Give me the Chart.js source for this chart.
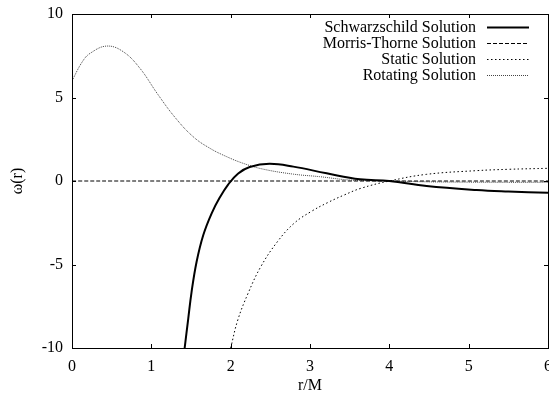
<!DOCTYPE html>
<html>
<head>
  <meta charset="utf-8">
  <title>omega(r)</title>
  <style>
    html, body { margin: 0; padding: 0; background: #fff; }
    canvas { display: block; }
  </style>
</head>
<body>
<canvas id="omegaChart" width="549" height="399"></canvas>
<script src="https://cdn.jsdelivr.net/npm/chart.js"></script>
<script type="text/javascript">
    // data (r/M against omega)
    const xTicks = [0, 1, 2, 3, 4, 5, 6];
    const yTicks = [-10, -5, 0, 5, 10];

    const schwLabel = 'Schwarzschild Solution';
    const schwR = [1.42, 1.465, 1.507, 1.57, 1.654, 1.759, 1.864, 1.97, 2.095, 2.24, 2.49, 2.79, 3.21, 3.63, 4.0, 4.47, 5.10, 5.5, 6.0];
    const schwW = [-10, -8.25, -6.65, -4.85, -3.25, -1.95, -0.98, -0.2, 0.45, 0.84, 1.03, 0.86, 0.46, 0.10, 0.0, -0.30, -0.54, -0.63, -0.71];

    const mtLabel = 'Morris-Thorne Solution';
    const mtR = [0, 6];
    const mtW = [0, 0];

    const statLabel = 'Static Solution';
    const statR = [2.0, 2.09, 2.22, 2.38, 2.59, 2.80, 3.01, 3.22, 3.43, 3.64, 4.0, 4.47, 5.10, 5.5, 6.0];
    const statW = [-10, -8.32, -6.72, -5.13, -3.63, -2.53, -1.84, -1.30, -0.84, -0.44, 0.0, 0.40, 0.62, 0.70, 0.76];

    const rotLabel = 'Rotating Solution';
    const rotR = [0, 0.13, 0.23, 0.44, 0.646, 0.856, 1.08, 1.30, 1.528, 1.738, 1.948, 2.157, 2.4, 2.79, 3.12, 3.5, 4.0, 4.5, 5.0, 5.5, 6.0];
    const rotW = [6.0, 7.14, 7.65, 8.08, 7.74, 6.75, 5.2, 3.8, 2.65, 1.96, 1.46, 1.06, 0.72, 0.41, 0.26, 0.06, 0.0, -0.05, -0.07, -0.08, -0.08];

    function pairs(xs, ys) {
      return xs.map((x, i) => ({x: x, y: ys[i]}));
    }

    Chart.defaults.font.family = '"Liberation Serif", "Times New Roman", serif';
    Chart.defaults.font.size = 16;
    Chart.defaults.color = '#000';

    // gnuplot style key: text right aligned, line sample on the right
    const keyPlugin = {
      id: 'keyBox',
      afterDatasetsDraw(chart) {
        const ctx = chart.ctx;
        const textRight = 476, lineFrom = 487, lineTo = 529, firstY = 27, gap = 16.1;
        chart.data.datasets.forEach((ds, i) => {
          const y = Math.round(firstY + i * gap) + 0.5;
          ctx.save();
          ctx.font = '16px "Liberation Serif"';
          ctx.fillStyle = '#000';
          ctx.textAlign = 'right';
          ctx.textBaseline = 'middle';
          ctx.fillText(ds.label, textRight, y);
          ctx.strokeStyle = ds.borderColor;
          ctx.lineWidth = ds.borderWidth;
          ctx.setLineDash(ds.borderDash || []);
          ctx.beginPath();
          ctx.moveTo(lineFrom, y);
          ctx.lineTo(lineTo, y);
          ctx.stroke();
          ctx.restore();
        });
      }
    };

    // box round the plot with inward ticks on all four sides
    const framePlugin = {
      id: 'frame',
      afterDatasetsDraw(chart) {
        const ctx = chart.ctx;
        const a = chart.chartArea;
        const xs = chart.scales.x, ys = chart.scales.y;
        const tl = 4;
        ctx.save();
        ctx.strokeStyle = '#000';
        ctx.lineWidth = 1;
        ctx.setLineDash([]);
        ctx.strokeRect(a.left + 0.5, a.top + 0.5, a.right - a.left, a.bottom - a.top);
        ctx.beginPath();
        xs.ticks.forEach(t => {
          const px = Math.round(xs.getPixelForValue(t.value)) + 0.5;
          ctx.moveTo(px, a.bottom); ctx.lineTo(px, a.bottom - tl);
          ctx.moveTo(px, a.top); ctx.lineTo(px, a.top + tl);
        });
        ys.ticks.forEach(t => {
          const py = Math.round(ys.getPixelForValue(t.value)) + 0.5;
          ctx.moveTo(a.left, py); ctx.lineTo(a.left + tl, py);
          ctx.moveTo(a.right, py); ctx.lineTo(a.right - tl, py);
        });
        ctx.stroke();
        ctx.restore();
      }
    };

    const data = {
      datasets: [{
        label: schwLabel,
        data: pairs(schwR, schwW),
        borderColor: '#000',
        borderWidth: 2
      }, {
        label: mtLabel,
        data: pairs(mtR, mtW),
        borderColor: '#000',
        borderWidth: 1,
        borderDash: [4, 2]
      }, {
        label: statLabel,
        data: pairs(statR, statW),
        borderColor: '#000',
        borderWidth: 1,
        borderDash: [1.5, 2.5]
      }, {
        label: rotLabel,
        data: pairs(rotR, rotW),
        borderColor: '#444',
        borderWidth: 1,
        borderDash: [1, 1]
      }]
    };

    const config = {
      type: 'line',
      data: data,
      options: {
        responsive: false,
        animation: false,
        layout: { padding: { top: 14, right: 1, left: 0, bottom: 0 } },
        elements: {
          point: { radius: 0 },
          line: { tension: 0.4, fill: false }
        },
        plugins: {
          legend: { display: false },
          tooltip: { enabled: false }
        },
        scales: {
          x: {
            type: 'linear',
            min: 0,
            max: 6,
            grid: { display: false, drawTicks: false },
            border: { display: false },
            ticks: { stepSize: 1, padding: 9, maxRotation: 0,
                      callback: v => xTicks.includes(v) ? String(v) : '' },
            title: { display: true, text: 'r/M', padding: { top: 0, bottom: 4 } },
            afterFit(s) { s.height = 51; s.paddingLeft = 0; s.paddingRight = 0; }
          },
          y: {
            min: -10,
            max: 10,
            grid: { display: false, drawTicks: false },
            border: { display: false },
            ticks: { stepSize: 5, padding: 9,
                      callback: v => yTicks.includes(v) ? String(v) : '' },
            title: { display: true, text: 'ω(r)', padding: { top: 8, bottom: 0 } },
            afterFit(s) { s.width = 72; s.paddingTop = 0; s.paddingBottom = 0; }
          }
        }
      },
      plugins: [framePlugin, keyPlugin]
    };

    const omegaChart = new Chart(document.getElementById('omegaChart'), config);
</script>
</body>
</html>
